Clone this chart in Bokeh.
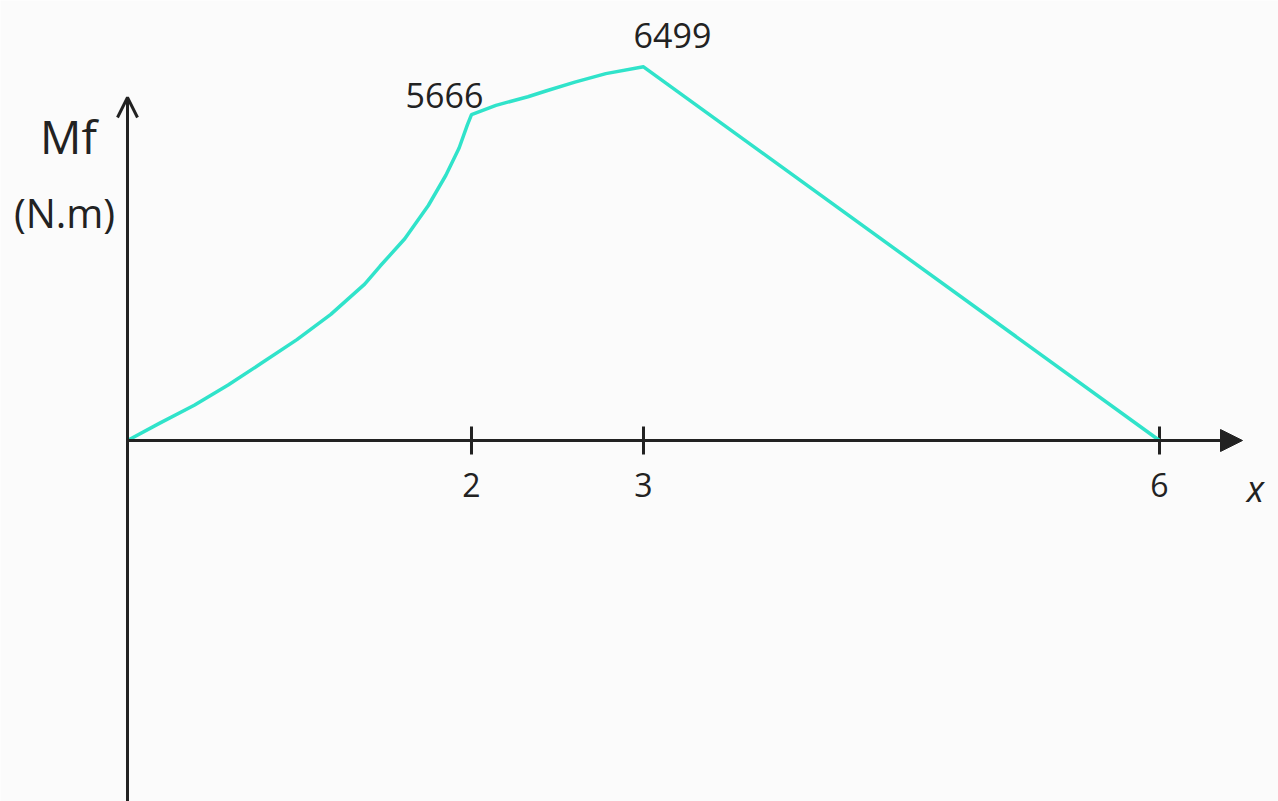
from bokeh.plotting import figure
from bokeh.models import Range1d, Arrow, OpenHead, NormalHead
from bokeh.core.properties import value
from bokeh.embed import file_html
from bokeh.resources import INLINE

# Bending moment Mf (N.m) along the beam, x in m
seg1_x = [0, 0.185, 0.388, 0.585, 0.782, 0.985, 1.182, 1.379, 1.469,
          1.612, 1.749, 1.851, 1.928, 1.976, 2]
seg1_mf = [0, 298, 614, 965, 1351, 1754, 2193, 2719, 3034,
           3508, 4087, 4613, 5087, 5490, 5666]
seg2_x = [2, 2.142, 2.328, 2.437, 2.601, 2.781, 3]
seg2_mf = [5666, 5829, 5978, 6083, 6232, 6380, 6499]
seg3_x = [3, 6]
seg3_mf = [6499, 0]

tick_x = [2, 3, 6]
tick_labels = ["2", "3", "6"]
peak_x = [2, 3]
peak_mf = [5666, 6499]

W, H = 1278, 801
ORIGIN_PX, ORIGIN_PY = 127, 440     # where the two axes cross on the page
PX_PER_X = 172.0                    # pixels per metre
PX_PER_MF = 0.0575                  # pixels per N.m

INK = "#222222"
CURVE = "#30e3ca"
FONT = value("Open Sans")


def xd(px):
    return (px - ORIGIN_PX) / PX_PER_X


def yd(py):
    return (ORIGIN_PY - py) / PX_PER_MF


p = figure(width=W, height=H, output_backend="svg", toolbar_location=None,
           x_range=Range1d(xd(0), xd(W)), y_range=Range1d(yd(H), yd(0)),
           min_border=0, background_fill_color="#fbfbfb",
           border_fill_color="#fbfbfb", outline_line_color=None)
p.axis.visible = False
p.grid.visible = False

# axes drawn as arrows
p.add_layout(Arrow(end=OpenHead(size=20, line_width=3, line_color=INK),
                   x_start=0, y_start=yd(H + 20), x_end=0, y_end=yd(97),
                   line_color=INK, line_width=3))
p.add_layout(Arrow(end=NormalHead(size=22, fill_color=INK, line_color=INK),
                   x_start=0, y_start=0, x_end=xd(1242), y_end=0,
                   line_color=INK, line_width=3))

# tick marks and labels on the x axis
p.scatter(tick_x, [0] * len(tick_x), marker="dash", angle=1.5708, size=28,
          line_color=INK, line_width=3)
p.text(tick_x, [0] * len(tick_x), text=tick_labels, text_font=FONT,
       text_font_size="32px", text_color=INK, text_align="center",
       text_baseline="middle", y_offset=44)

# moment diagram
mf_x = seg1_x + seg2_x[1:] + seg3_x[1:]
mf_y = seg1_mf + seg2_mf[1:] + seg3_mf[1:]
p.line(mf_x, mf_y, line_color=CURVE, line_width=3.5, line_join="round")

# values at the two break points
p.text(peak_x, peak_mf, text=[str(v) for v in peak_mf], text_font=FONT,
       text_font_size="34px", text_color=INK, text_align="center",
       text_baseline="middle", x_offset=[-27, 29], y_offset=[-19, -31])

# axis titles
p.text([xd(1255)], [yd(488)], text=["x"], text_font=FONT,
       text_font_size="36px", text_font_style="italic", text_color=INK,
       text_align="center", text_baseline="middle")
p.text([xd(68)], [yd(135)], text=["Mf"], text_font=FONT,
       text_font_size="46px", text_color=INK, text_align="center",
       text_baseline="middle")
p.text([xd(64)], [yd(212)], text=["(N.m)"], text_font=FONT,
       text_font_size="40px", text_color=INK, text_align="center",
       text_baseline="middle")

open("out.html", "w").write(file_html(p, INLINE))
